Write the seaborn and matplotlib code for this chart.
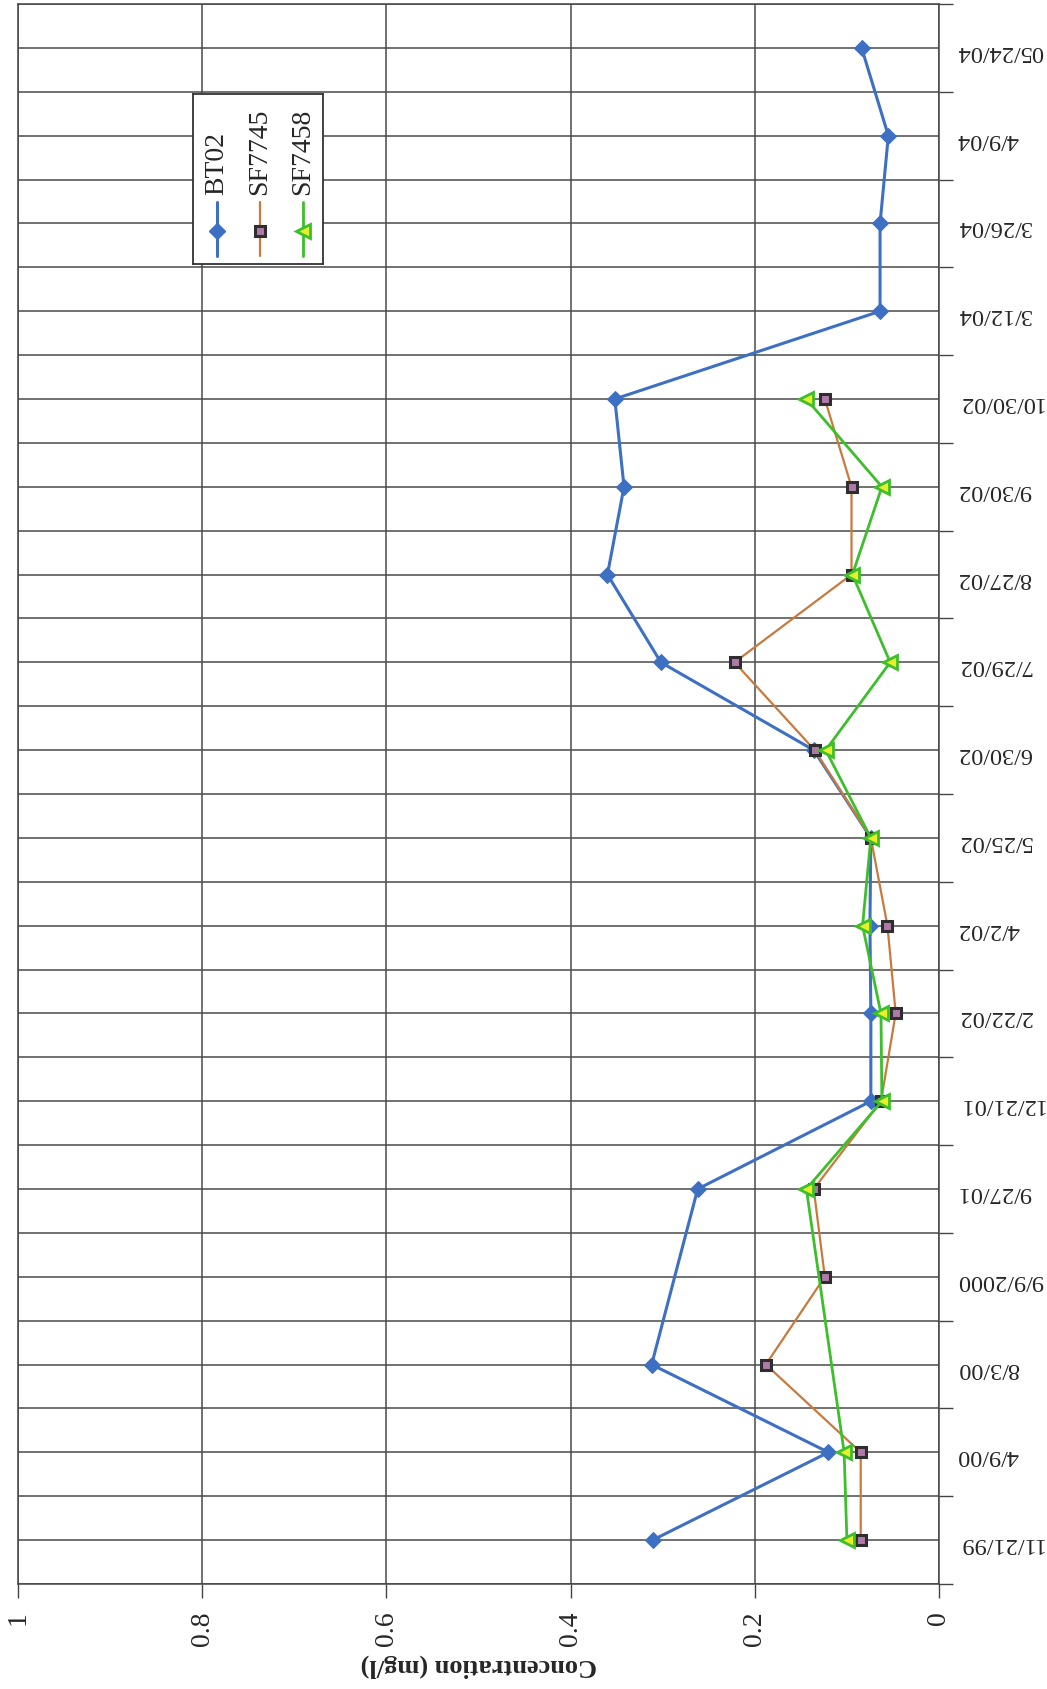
import numpy as np
import pandas as pd
import seaborn as sns
import matplotlib
matplotlib.use("Agg")
import matplotlib.pyplot as plt

# sampling dates (bottom to top)
dates = ['11/21/99', '4/9/00', '8/3/00', '9/9/2000', '9/27/01', '12/21/01', '2/22/02',
         '4/2/02', '5/25/02', '6/30/02', '7/29/02', '8/27/02', '9/30/02', '10/30/02',
         '3/12/04', '3/26/04', '4/9/04', '05/24/04']

nan = np.nan
bt02 = [0.311, 0.12, 0.312, nan, 0.262, 0.074, 0.074, 0.075, 0.074, 0.136, 0.302,
        0.36, 0.342, 0.352, 0.064, 0.064, 0.055, 0.084]
sf7745 = [0.085, 0.085, 0.188, 0.124, 0.136, 0.063, 0.047, 0.056, 0.074, 0.135, 0.222,
          0.095, 0.095, 0.124, nan, nan, nan, nan]
sf7458 = [0.10, 0.103, nan, nan, 0.144, 0.062, 0.063, 0.083, 0.074, 0.123, 0.053,
          0.094, 0.062, 0.144, nan, nan, nan, nan]

series = ['BT02', 'SF7745', 'SF7458']
values = [bt02, sf7745, sf7458]

sns.set_style("ticks")
plt.rcParams['font.family'] = ['Liberation Serif', 'DejaVu Serif']

fig = plt.figure(figsize=(10.47, 16.9), dpi=100)
ax = fig.add_axes([18 / 1047, 1 - 1585 / 1690, 921 / 1047, 1580 / 1690])

styles = {
    'BT02': dict(color='#3d6fc2', marker='D', markersize=8.5, markerfacecolor='#3d6fc2',
                 markeredgecolor='#3d6fc2', linewidth=2.2),
    'SF7745': dict(color='#c87a3e', marker='s', markersize=6.5, markerfacecolor='#b07aa8',
                   markeredgecolor='#2e2e2e', markeredgewidth=2.2, linewidth=1.6),
    'SF7458': dict(color='#3cbf2a', marker='<', markersize=10, markerfacecolor='#e6ef2a',
                   markeredgecolor='#3cbf2a', markeredgewidth=2.0, linewidth=2.0),
}

for name, vals in zip(series, values):
    d = pd.DataFrame({'pos': np.arange(len(dates)), 'conc': vals}).dropna()
    sns.lineplot(data=d, x='conc', y='pos', orient='y', sort=True, errorbar=None,
                 ax=ax, label=None, **styles[name])

ax.set_xlim(1, 0)
ax.set_ylim(-0.5, len(dates) - 0.5)

# value axis
ax.set_xticks(np.arange(0, 1.01, 0.2))
ax.set_xticklabels(['0', '0.2', '0.4', '0.6', '0.8', '1'], rotation=90, fontsize=20)
ax.tick_params(axis='x', direction='out', length=10, width=1, color='#444444', pad=9)
ax.set_xlabel('Concentration (mg/l)', fontsize=19, fontweight='bold', rotation=180,
              labelpad=6)

# date axis on the right
ax.yaxis.tick_right()
ax.set_yticks(np.arange(len(dates)))
ax.set_yticklabels(dates, rotation=180, fontsize=17.5)
ax.set_yticks(np.arange(len(dates) + 1) - 0.5, minor=True)
ax.tick_params(axis='y', which='major', length=0, pad=13)
ax.tick_params(axis='y', which='minor', direction='out', length=10, width=1, color='#444444')
ax.set_ylabel('')

# gridlines
for yv in np.arange(-0.5, len(dates), 0.5):
    ax.axhline(yv, color='#4a4a4a', linewidth=1.1, zorder=0)
for xv in np.arange(0, 1.01, 0.2):
    ax.axvline(xv, color='#4a4a4a', linewidth=1.1, zorder=0)
for sp in ax.spines.values():
    sp.set_color('#444444')
    sp.set_linewidth(1.1)

if ax.get_legend() is not None:
    ax.get_legend().remove()

# legend with vertical entries
lax = ax.inset_axes([(193 - 18) / 921, (1585 - 265) / 1580, 130 / 921, 170 / 1580])
lax.set_xlim(0, 1)
lax.set_ylim(0, 1)
lax.set_xticks([])
lax.set_yticks([])
for sp in lax.spines.values():
    sp.set_color('#333333')
    sp.set_linewidth(1.3)
for name, xp in zip(series, [0.185, 0.515, 0.846]):
    st = dict(styles[name])
    lax.plot([xp, xp], [0.05, 0.365], **st, markevery=[])
    lax.plot([xp], [0.195], linestyle='none', **{k: v for k, v in st.items()
                                                 if k not in ('linewidth',)})
    lax.text(xp, 0.41, name, rotation=90, ha='center', va='bottom', fontsize=20)

fig.savefig('out.png', dpi=100)
